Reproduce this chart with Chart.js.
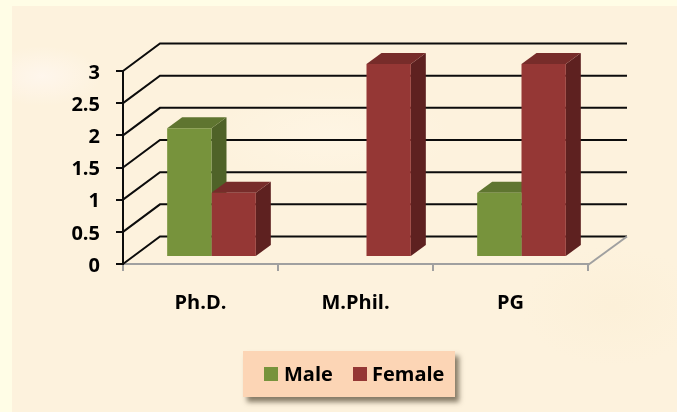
<!DOCTYPE html>
<html>
<head>
<meta charset="utf-8">
<style>
    html, body { margin: 0; padding: 0; width: 677px; height: 412px; overflow: hidden; background: #fffde6; }
    #panel {
        position: absolute; left: 12px; top: 6px; width: 665px; height: 406px;
        background:
            radial-gradient(ellipse 60px 30px at 30px 70px, rgba(255,247,240,.8), transparent),
            radial-gradient(ellipse 120px 50px at 320px 130px, rgba(255,247,232,.6), transparent),
            radial-gradient(ellipse 90px 60px at 600px 300px, rgba(251,238,212,.5), transparent),
            #fdf2dd;
    }
    #wrap { position: absolute; left: 0; top: 0; width: 677px; height: 412px; }
    #legend {
        position: absolute; left: 243px; top: 351px; width: 212px; height: 46px;
        background: #fcd5b5; box-shadow: 4px 5px 5px rgba(70,60,40,.65);
        font: bold 20px "Open Sans", sans-serif; color: #000;
    }
    #legend span { position: absolute; top: 9px; line-height: 27px; }
    #legend i { position: absolute; top: 16px; width: 14px; height: 14px; }
</style>
</head>
<body>
<div id="panel"></div>
<div id="wrap"><canvas id="chart" width="677" height="412"></canvas></div>
<div id="legend"></div>
<script src="https://cdn.jsdelivr.net/npm/chart.js@4"></script>
<script>
const categories = ['Ph.D.', 'M.Phil.', 'PG'];
const maleValues = [2, 0, 1];
const femaleValues = [1, 3, 3];

const maleColors = { front: '#77933c', side: '#4f6228', top: '#5f7530' };
const femaleColors = { front: '#953735', side: '#5e2120', top: '#772c2a' };

// 3D look: how far the back wall and the bars sit from the front plane
const wallDx = 37, wallDy = 27.5, wallRightDx = 39;
const barShiftX = 11, barShiftY = 7;
const barDepthX = 15, barDepthY = 11;

function face(ctx, color, pts) {
    ctx.fillStyle = color;
    ctx.beginPath();
    pts.forEach((p, i) => i ? ctx.lineTo(p[0], p[1]) : ctx.moveTo(p[0], p[1]));
    ctx.closePath();
    ctx.fill();
}

const fake3d = {
    id: 'fake3d',
    beforeDatasetsDraw(chart) {
        const { ctx, chartArea, scales } = chart;
        const y = scales.y;
        ctx.save();

        // side wall and back wall lines
        ctx.strokeStyle = '#0c0c0c';
        ctx.lineWidth = 2;
        y.ticks.forEach(t => {
            const py = y.getPixelForValue(t.value);
            ctx.beginPath();
            ctx.moveTo(chartArea.left, py);
            ctx.lineTo(chartArea.left + wallDx, py - wallDy);
            ctx.lineTo(chartArea.right + wallRightDx, py - wallDy);
            ctx.stroke();
        });

        // floor edge on the right
        ctx.strokeStyle = '#a0a0a0';
        ctx.beginPath();
        ctx.moveTo(chartArea.right, chartArea.bottom + 1);
        ctx.lineTo(chartArea.right + wallRightDx, chartArea.bottom - wallDy);
        ctx.stroke();

        // side and top faces of the bars, male first so female covers it
        chart.data.datasets.forEach((ds, di) => {
            chart.getDatasetMeta(di).data.forEach((bar, i) => {
                if (!ds.data[i]) return;
                const left = bar.x - bar.width / 2 + barShiftX;
                const right = bar.x + bar.width / 2 + barShiftX;
                const top = bar.y - barShiftY;
                const base = bar.base - barShiftY;
                face(ctx, ds.faces.side, [[right, top], [right + barDepthX, top - barDepthY], [right + barDepthX, base - barDepthY], [right, base]]);
                face(ctx, ds.faces.top, [[left, top], [left + barDepthX, top - barDepthY], [right + barDepthX, top - barDepthY], [right, top]]);
            });
        });
        ctx.restore();

        // front faces are the chart's own bars, moved off the front plane
        ctx.save();
        ctx.translate(barShiftX, -barShiftY);
    },
    afterDatasetsDraw(chart) {
        chart.ctx.restore();
    }
};

const tickFont = { family: '"Open Sans", sans-serif', weight: 'bold', size: 20 };

const chart = new Chart(document.getElementById('chart'), {
    type: 'bar',
    data: {
        labels: categories,
        datasets: [
            { label: 'Male', data: maleValues, backgroundColor: maleColors.front, faces: maleColors },
            { label: 'Female', data: femaleValues, backgroundColor: femaleColors.front, faces: femaleColors }
        ]
    },
    options: {
        responsive: false,
        animation: false,
        layout: { padding: { top: 71, right: 89, bottom: 0, left: 0 } },
        datasets: { bar: { barPercentage: 1, categoryPercentage: 0.572 } },
        plugins: { legend: { display: false }, tooltip: { enabled: false } },
        scales: {
            x: {
                afterFit(scale) { scale.height = 148; },
                border: { color: '#a0a0a0', width: 2 },
                grid: { drawOnChartArea: false, color: '#a0a0a0', lineWidth: 2, tickLength: 7 },
                ticks: { color: '#000', font: tickFont, padding: 20 }
            },
            y: {
                min: 0,
                max: 3,
                afterFit(scale) { scale.width = 123; },
                border: { color: '#0c0c0c', width: 2 },
                grid: { drawOnChartArea: false, color: '#0c0c0c', lineWidth: 2, tickLength: 7 },
                ticks: { stepSize: 0.5, color: '#000', font: tickFont, padding: 16, labelOffset: 2, callback: v => String(v) }
            }
        }
    },
    plugins: [fake3d]
});

// legend box is plain html, built from the datasets
const legendEl = document.getElementById('legend');
const legendX = [[21, 41], [110, 129]];
chart.data.datasets.forEach((ds, i) => {
    const box = document.createElement('i');
    box.style.left = legendX[i][0] + 'px';
    box.style.background = ds.backgroundColor;
    const label = document.createElement('span');
    label.style.left = legendX[i][1] + 'px';
    label.textContent = ds.label;
    legendEl.append(box, label);
});
</script>
</body>
</html>
